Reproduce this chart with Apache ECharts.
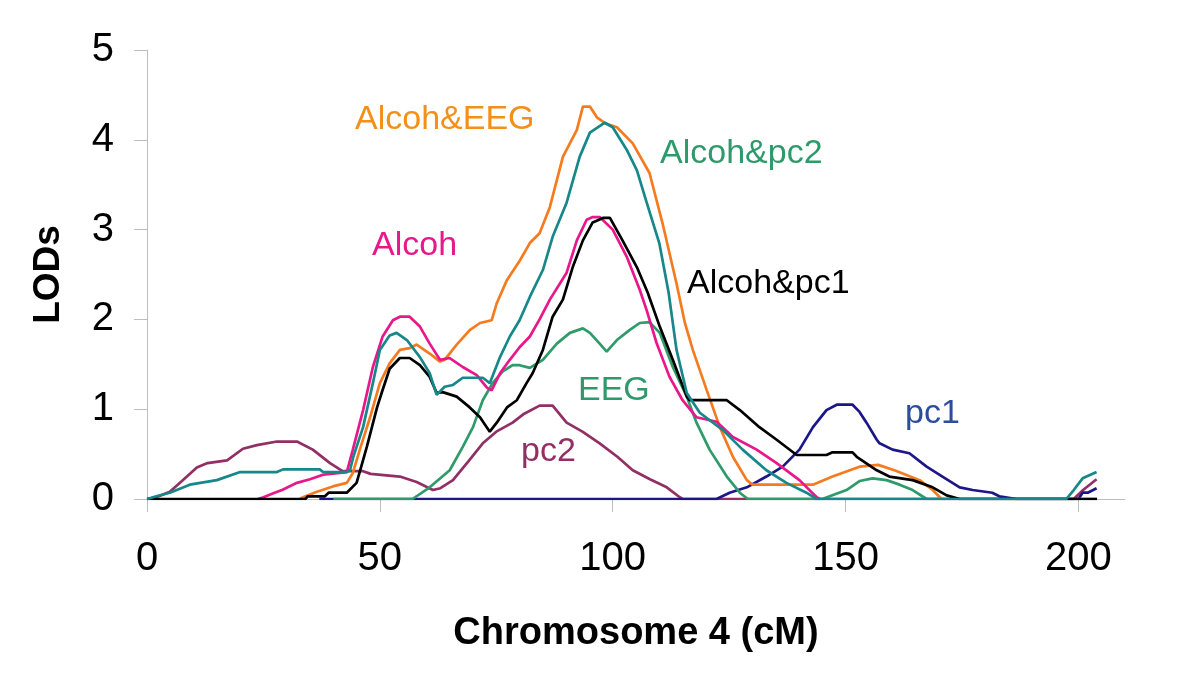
<!DOCTYPE html>
<html>
<head>
<meta charset="utf-8">
<script src="https://cdn.jsdelivr.net/npm/echarts@6/dist/echarts.min.js"></script>
<style>
html,body{margin:0;padding:0;background:#fff;}
#chart{width:1200px;height:679px;}
</style>
</head>
<body>
<div id="chart"></div>
<script>
// ---- data (x = cM, y = LOD) ----
const xTicks = [0, 50, 100, 150, 200];
const yTicks = [0, 1, 2, 3, 4, 5];
const seriesNames = ['pc2', 'pc1', 'EEG', 'Alcoh&EEG', 'Alcoh', 'Alcoh&pc1', 'Alcoh&pc2'];

const pc2 = [[0,0],[2,0.02],[4.9,0.08],[7.5,0.2],[10.7,0.35],[13,0.4],[17.2,0.43],[20.6,0.56],[23.6,0.6],[27.9,0.64],[32.2,0.64],[35.6,0.55],[39.3,0.4],[42,0.31],[46.4,0.31],[48,0.28],[54.3,0.25],[57.9,0.19],[61.4,0.1],[63,0.12],[65.7,0.21],[69,0.42],[72.1,0.62],[75,0.75],[78.5,0.85],[81,0.95],[84.3,1.04],[87.1,1.04],[90.1,0.85],[93.5,0.75],[97.2,0.62],[101,0.47],[104.3,0.32],[108,0.22],[111.6,0.13],[114.4,0.02],[115,0],[199,0],[201,0.1],[203.9,0.22]];

const pc1 = [[37,0],[122.3,0],[125.1,0.07],[128.8,0.13],[133,0.25],[136.5,0.36],[140.1,0.55],[143,0.8],[145.9,0.99],[148.1,1.05],[151.5,1.05],[153,0.97],[154.5,0.85],[156.7,0.66],[157.3,0.62],[160.1,0.55],[163.7,0.51],[167.4,0.36],[170.8,0.25],[174.5,0.13],[177.3,0.1],[181.5,0.07],[183,0.03],[186.7,0],[200,0],[200.9,0.07],[202,0.07],[203.9,0.12]];

const eeg = [[40,0],[57,0],[60.7,0.13],[65,0.32],[67.8,0.58],[70,0.8],[72.1,1.1],[74.2,1.29],[76.4,1.42],[78.5,1.49],[80,1.49],[82.2,1.46],[85,1.55],[88,1.73],[90.8,1.85],[93.6,1.9],[95.1,1.85],[97.2,1.73],[98.7,1.64],[100.9,1.77],[103.6,1.88],[105.8,1.96],[107.9,1.97],[110.1,1.85],[112.9,1.47],[115.9,1.14],[118,0.85],[120.8,0.55],[124.5,0.25],[127.3,0.07],[129,0],[145,0],[150.2,0.1],[153,0.2],[155.8,0.23],[158.8,0.21],[161.6,0.16],[164.4,0.1],[167.4,0],[204,0]];

const alcohEEG = [[32.8,0],[33.5,0.02],[36.5,0.08],[39.9,0.14],[42.9,0.18],[44.2,0.29],[45.7,0.55],[47.9,0.91],[50,1.29],[52.1,1.51],[54.3,1.66],[56.4,1.68],[57.9,1.72],[60.7,1.62],[62.9,1.53],[63.9,1.55],[66.5,1.72],[69.3,1.88],[71.5,1.96],[74,1.99],[75.1,2.18],[77.3,2.44],[80,2.65],[82.2,2.85],[84.3,2.96],[86.5,3.25],[89.3,3.81],[92.3,4.11],[93.6,4.37],[95.1,4.37],[96.6,4.25],[98.5,4.18],[100.9,4.14],[104.3,3.96],[107.9,3.63],[110.7,3.07],[113.7,2.4],[115.5,1.96],[117.2,1.66],[120.2,1.21],[123,0.8],[125.8,0.47],[128.8,0.21],[130,0.16],[143,0.16],[147.2,0.25],[153,0.36],[157,0.38],[160.5,0.32],[165.9,0.21],[168.7,0.1],[170.6,0]];

const alcoh = [[23.8,0],[25,0.02],[27,0.06],[29,0.1],[32.2,0.18],[35,0.22],[37.8,0.27],[42.9,0.3],[44.2,0.55],[46.4,0.99],[48.5,1.47],[50.6,1.81],[52.8,1.99],[54.3,2.03],[56.4,2.03],[58.6,1.92],[60.7,1.73],[62.9,1.55],[65,1.57],[67.8,1.47],[70.8,1.38],[73,1.24],[74,1.21],[75.8,1.4],[77.9,1.55],[80,1.69],[82.2,1.81],[84.3,2.0],[86.5,2.22],[90.1,2.52],[92.3,2.88],[94.4,3.11],[95.7,3.14],[97.2,3.14],[100,3.0],[103,2.7],[105.8,2.33],[107.3,2.1],[109.4,1.74],[112.2,1.36],[115,1.1],[118,0.91],[122.3,0.86],[125.8,0.69],[130.9,0.55],[135.2,0.4],[140.1,0.21],[143.8,0.02],[144.5,0]];

const alcohPc1 = [[0,0],[34,0],[34.5,0.03],[38.2,0.03],[39,0.07],[42.9,0.07],[45,0.18],[46,0.36],[47.2,0.58],[49.4,1.02],[50.5,1.2],[52.1,1.45],[54.3,1.57],[56.4,1.57],[58.6,1.49],[60.7,1.36],[62.2,1.18],[63.5,1.19],[66.5,1.14],[69.3,1.02],[71.5,0.91],[73.6,0.75],[75.1,0.85],[77.3,1.02],[79.4,1.1],[81.5,1.29],[82.8,1.4],[85,1.66],[87.1,2.03],[89.3,2.22],[91.4,2.58],[93.6,2.88],[95.7,3.08],[97.9,3.13],[99.4,3.13],[102.1,2.88],[105.2,2.58],[107.5,2.3],[110.1,1.92],[112.9,1.55],[115.9,1.14],[116.5,1.1],[124.5,1.1],[127.3,0.99],[131.5,0.8],[135.2,0.66],[139.5,0.49],[145.9,0.49],[147.2,0.52],[151.5,0.52],[152.4,0.47],[156.7,0.32],[159.4,0.25],[164.4,0.21],[168.7,0.13],[171.7,0.04],[174.5,0],[204,0]];

const alcohPc2 = [[0,0],[2,0.03],[4.9,0.07],[9.2,0.16],[15,0.21],[20,0.3],[27.9,0.3],[29.2,0.33],[37.1,0.33],[37.8,0.3],[42.9,0.3],[43.6,0.32],[44.3,0.47],[46.4,0.8],[48.5,1.29],[50,1.66],[52.1,1.82],[53.6,1.85],[55.8,1.77],[58.6,1.58],[60.7,1.4],[62.2,1.16],[63.9,1.25],[65.7,1.27],[67.8,1.35],[72.1,1.35],[73.6,1.29],[75.8,1.58],[77.9,1.81],[80,1.99],[82.2,2.25],[85,2.55],[87.1,2.92],[90.1,3.3],[92.9,3.81],[95.1,4.08],[98.3,4.19],[100,4.14],[103,3.89],[105.2,3.66],[107.3,3.3],[110,2.85],[112,2.3],[113.7,1.66],[115.9,1.18],[118.7,0.96],[123.6,0.77],[127.9,0.55],[133,0.32],[137.3,0.18],[141.6,0.07],[143.8,0],[197.4,0],[199,0.1],[200.9,0.23],[203.9,0.3]];

const seriesData = [pc2, pc1, eeg, alcohEEG, alcoh, alcohPc1, alcohPc2];
const lineColors = ['#922F64', '#1C1689', '#2F9A6A', '#F57B20', '#E8178B', '#000000', '#17878A'];

// curve labels
const labelTexts = ['Alcoh&EEG', 'Alcoh&pc2', 'Alcoh', 'Alcoh&pc1', 'EEG', 'pc2', 'pc1'];
const labelColors = ['#F39019', '#2E9A6C', '#E8178B', '#000000', '#2E9A6C', '#922F64', '#2C4C9E'];
const labelPos = [[355, 120], [660, 154], [372, 246], [687, 284], [578, 391], [521, 452], [905, 414]];

const FONT = '"Liberation Sans", Arial, sans-serif';
const chart = echarts.init(document.getElementById('chart'), null, {renderer: 'canvas'});

const option = {
  animation: false,
  backgroundColor: '#ffffff',
  grid: {left: 147, right: 75, top: 50, bottom: 180, containLabel: false},
  xAxis: {
    type: 'value', min: 0, max: 210,
    name: 'Chromosome 4 (cM)', nameLocation: 'middle', nameGap: 116,
    nameTextStyle: {fontFamily: FONT, fontSize: 38, fontWeight: 'bold', color: '#000'},
    axisLine: {show: true, lineStyle: {color: '#BDBDBD', width: 1}},
    axisTick: {show: true, length: 13, customValues: xTicks, lineStyle: {color: '#BDBDBD'}},
    axisLabel: {customValues: xTicks, fontFamily: FONT, fontSize: 40, color: '#000', margin: 40},
    splitLine: {show: false}
  },
  yAxis: {
    type: 'value', min: 0, max: 5, interval: 1,
    name: 'LODs', nameLocation: 'middle', nameGap: 80, nameRotate: 90,
    nameTextStyle: {fontFamily: FONT, fontSize: 37, fontWeight: 'bold', color: '#000'},
    axisLine: {show: true, lineStyle: {color: '#BDBDBD', width: 1}},
    axisTick: {show: true, length: 13, lineStyle: {color: '#BDBDBD'}},
    axisLabel: {fontFamily: FONT, fontSize: 40, color: '#000', margin: 33,
      formatter: v => (yTicks.indexOf(v) >= 0 ? String(v) : '')},
    splitLine: {show: false}
  },
  series: seriesData.map((d, i) => ({
    name: seriesNames[i],
    type: 'line',
    data: d,
    showSymbol: false,
    symbol: 'none',
    lineStyle: {color: lineColors[i], width: 2.7},
    z: 2 + i
  })),
  graphic: labelTexts.map((t, i) => ({
    type: 'text',
    x: labelPos[i][0], y: labelPos[i][1],
    z: 100,
    style: {text: t, fill: labelColors[i], font: '34px ' + FONT, textAlign: 'left', textVerticalAlign: 'middle'}
  }))
};
chart.setOption(option);
</script>
</body>
</html>
